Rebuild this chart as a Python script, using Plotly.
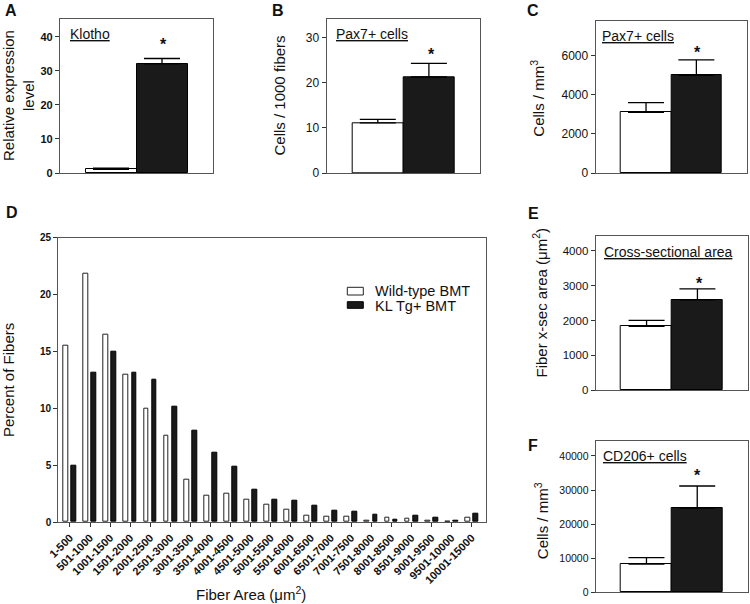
import plotly.graph_objects as go

# ---------------- data ----------------
groups = ["Wild-type BMT", "KL Tg+ BMT"]

klotho_mean = [1.1, 32.0]
klotho_err = [0.3, 1.6]

pax7_fiber_mean = [11.1, 21.3]
pax7_fiber_err = [0.8, 3.0]

pax7_vol_mean = [3100, 5000]
pax7_vol_err = [500, 790]

csa_mean = [1830, 2590]
csa_err = [170, 320]

cd206_mean = [8300, 24700]
cd206_err = [1900, 6500]

fiber_bins = ["1-500", "501-1000", "1001-1500", "1501-2000", "2001-2500", "2501-3000",
              "3001-3500", "3501-4000", "4001-4500", "4501-5000", "5001-5500", "5501-6000",
              "6001-6500", "6501-7000", "7001-7500", "7501-8000", "8001-8500", "8501-9000",
              "9001-9500", "9501-10000", "10001-15000"]
wt_pct = [15.5, 21.8, 16.5, 12.95, 10.0, 7.6, 3.75, 2.3, 2.5, 2.0, 1.5, 1.1,
          0.55, 0.45, 0.45, 0.15, 0.35, 0.3, 0.08, 0.07, 0.35]
kl_pct = [4.95, 13.1, 15.0, 13.1, 12.5, 10.1, 8.05, 6.1, 4.9, 2.8, 2.0, 1.9,
          1.45, 1.0, 0.95, 0.6, 0.2, 0.55, 0.35, 0.15, 0.7]

W, H = 750, 604
FONT = "Arial, Liberation Sans, sans-serif"
WHITE = "#ffffff"
BLACK = "#1a1a1a"
LINE = "#555555"
TXT = "#111111"


def px(p):
    return p / W


def py(p):
    return 1 - p / H


fig = go.Figure()

# panels: (axis suffix, mean, err, x px range, y px range, y range, tickvals, tick size, bold)
panels = [
    ("", klotho_mean, klotho_err, (60, 213), (19, 173), [0, 45.2], [0, 10, 20, 30, 40], 11, True),
    ("2", pax7_fiber_mean, pax7_fiber_err, (326.7, 480), (19.3, 173), [0, 34.1], [0, 10, 20, 30], 12, False),
    ("3", pax7_vol_mean, pax7_vol_err, (595.7, 746.7), (21, 173), [0, 7780], [0, 2000, 4000, 6000], 12, False),
    ("5", csa_mean, csa_err, (595.7, 748.3), (236, 390), [0, 4430], [0, 1000, 2000, 3000, 4000], 11.5, False),
    ("6", cd206_mean, cd206_err, (595.7, 748), (441, 592.3), [0, 44400], [0, 10000, 20000, 30000, 40000], 10.5, False),
]

layout_axes = {}
for suf, mean, err, xr, yr, yrange, tv, tsize, tbold in panels:
    fig.add_trace(go.Bar(
        x=[0, 1], y=mean, width=1,
        marker=dict(color=[WHITE, BLACK], line=dict(color="#000000", width=1)),
        error_y=dict(type="data", array=err, arrayminus=[0, 0], symmetric=False,
                     color="#000000", thickness=1.3, width=18),
        xaxis="x" + suf, yaxis="y" + suf, showlegend=False, hoverinfo="skip",
    ))
    ttext = [("<b>%d</b>" % v) if tbold else ("%d" % v) for v in tv]
    layout_axes["xaxis" + suf] = dict(
        domain=[px(xr[0]), px(xr[1])], range=[-1, 2], anchor="y" + suf,
        showticklabels=False, ticks="", showgrid=False, zeroline=False, automargin=False,
        showline=True, linecolor=LINE, linewidth=1.2, mirror=True,
    )
    layout_axes["yaxis" + suf] = dict(
        domain=[py(yr[1]), py(yr[0])], range=yrange, anchor="x" + suf, automargin=False,
        tickvals=tv, ticktext=ttext, ticks="outside", ticklen=4, tickwidth=1, tickcolor="#333",
        tickfont=dict(size=tsize, family=FONT, color=TXT), showgrid=False, zeroline=False,
        showline=True, linecolor=LINE, linewidth=1.2, mirror=True,
    )

# panel D histogram
idx = list(range(len(fiber_bins)))
fig.add_trace(go.Bar(
    x=idx, y=wt_pct, width=0.24, offset=-0.32, name=groups[0],
    marker=dict(color=WHITE, line=dict(color="#222", width=1)),
    xaxis="x4", yaxis="y4", showlegend=False, hoverinfo="skip",
))
fig.add_trace(go.Bar(
    x=idx, y=kl_pct, width=0.24, offset=0.08, name=groups[1],
    marker=dict(color=BLACK, line=dict(color="#000", width=1)),
    xaxis="x4", yaxis="y4", showlegend=False, hoverinfo="skip",
))
d_yticks = [0, 5, 10, 15, 20, 25]
layout_axes["xaxis4"] = dict(
    domain=[px(58.3), px(485.7)], range=[-0.58, 20.70], anchor="y4", automargin=False,
    tickvals=idx, ticktext=["<b>%s</b>" % b for b in fiber_bins], tickangle=-45,
    tickfont=dict(size=11, family=FONT, color=TXT),
    ticks="outside", ticklen=4, tickwidth=1, tickcolor="#333",
    showgrid=False, zeroline=False, showline=True, linecolor=LINE, linewidth=1.2, mirror=True,
)
layout_axes["yaxis4"] = dict(
    domain=[py(522), py(237.7)], range=[0, 25], anchor="x4", automargin=False,
    tickvals=d_yticks, ticktext=["<b>%d</b>" % v for v in d_yticks],
    ticks="outside", ticklen=4, tickwidth=1, tickcolor="#333",
    tickfont=dict(size=10, family=FONT, color=TXT),
    showgrid=False, zeroline=False, showline=True, linecolor=LINE, linewidth=1.2, mirror=True,
)

ann = []


def text(t, x, y, size, bold=False, angle=0, xanchor="center", yanchor="middle"):
    ann.append(dict(text=t, x=px(x), y=py(y), xref="paper", yref="paper", showarrow=False,
                    textangle=angle, xanchor=xanchor, yanchor=yanchor,
                    font=dict(size=size, family=FONT, color=TXT,
                              weight="bold" if bold else "normal")))


# panel letters
for lab, x, y in [("A", 11, 10.5), ("B", 277.5, 10.5), ("C", 533, 10.5),
                  ("D", 11.8, 212.5), ("E", 533, 213.3), ("F", 532.7, 445)]:
    text("<b>%s</b>" % lab, x, y, 16)

# axis titles
text("Relative expression<br>level", 18, 96, 15, angle=-90)
text("Cells / 1000 fibers", 278.5, 96, 15, angle=-90)
text("Cells / mm<sup>3</sup>", 536.7, 98, 15, angle=-90)
text("Percent of Fibers", 8, 380, 15, angle=-90)
text("Fiber x-sec area (μm<sup>2</sup>)", 540, 302.5, 15, angle=-90)
text("Cells / mm<sup>3</sup>", 541.7, 520.5, 15, angle=-90)
text("Fiber Area (μm<sup>2</sup>)", 250.5, 593, 15)

# in-panel titles
text("<u>Klotho</u>", 68.3, 34, 14, xanchor="left")
text("<u>Pax7+ cells</u>", 334.3, 34, 14, xanchor="left")
text("<u>Pax7+ cells</u>", 600, 36, 14, xanchor="left")
text("<u>Cross-sectional area</u>", 602.3, 252, 14, xanchor="left")
text("<u>CD206+ cells</u>", 601, 455.5, 14, xanchor="left")

# significance stars
for x, y in [(163.3, 44), (431, 54), (697.3, 52), (699.3, 283), (697.7, 475)]:
    text("<b>*</b>", x, y, 16)

# legend for panel D
shapes = [
    dict(type="rect", xref="paper", yref="paper", x0=px(347.3), x1=px(363.3),
         y0=py(295), y1=py(287.3), fillcolor=WHITE, line=dict(color="#222", width=1)),
    dict(type="rect", xref="paper", yref="paper", x0=px(347.3), x1=px(363.3),
         y0=py(308.3), y1=py(301.7), fillcolor=BLACK, line=dict(color="#000", width=1)),
]
text(groups[0], 373.3, 291, 14.5, xanchor="left")
text(groups[1], 373.3, 306, 14.5, xanchor="left")

fig.update_layout(
    width=W, height=H, margin=dict(l=0, r=0, t=0, b=0, autoexpand=False),
    paper_bgcolor="white", plot_bgcolor="white",
    barmode="overlay", bargap=0, hovermode=False,
    annotations=ann, shapes=shapes, showlegend=False,
    font=dict(family=FONT, color=TXT),
    **layout_axes,
)

fig.write_html("out.html", config={"displayModeBar": False},
               post_script="document.body.style.margin='0';")
